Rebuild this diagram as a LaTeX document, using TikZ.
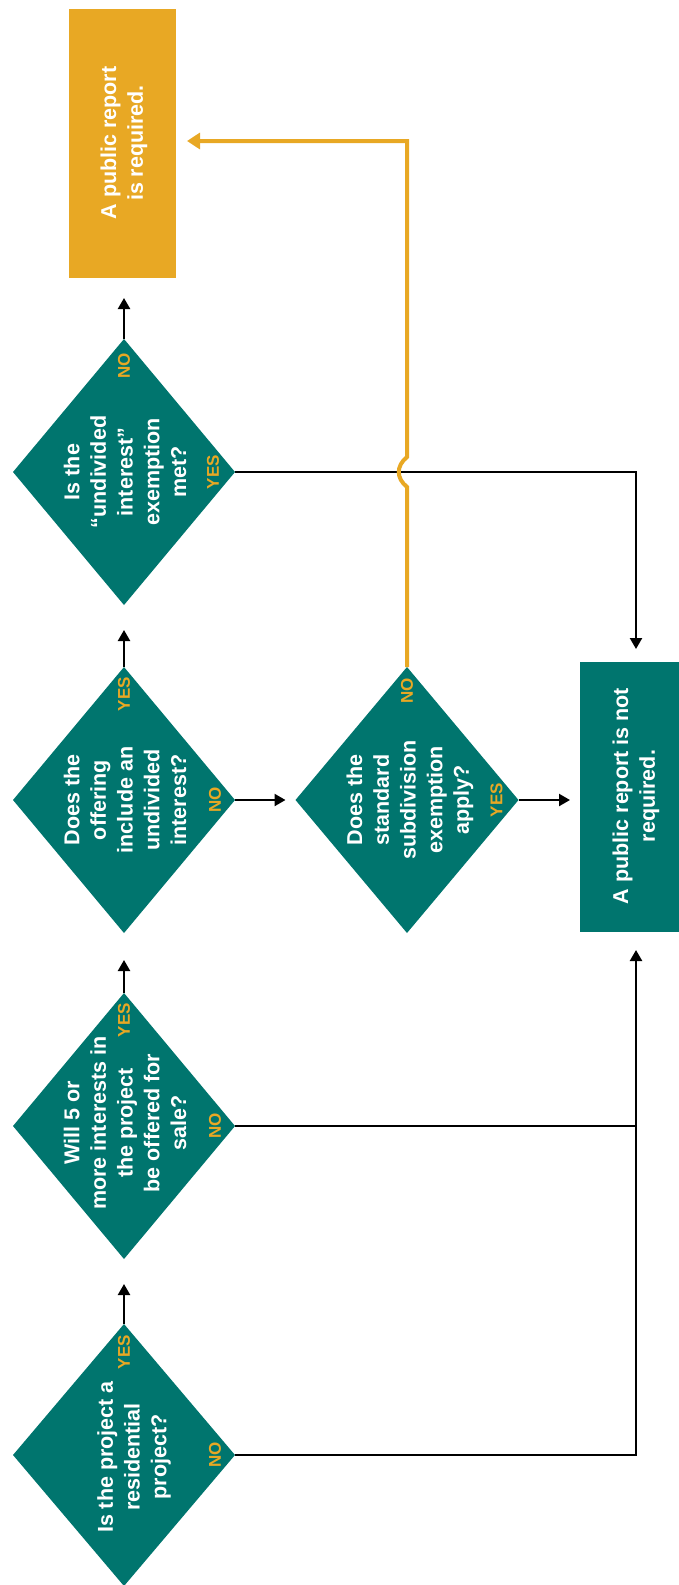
\documentclass[tikz,border=0pt]{standalone}
\usepackage{fontspec}
\setmainfont{Liberation Sans}
\usetikzlibrary{shapes.geometric,arrows.meta,calc}
\definecolor{teal}{RGB}{0,117,110}
\definecolor{gold}{RGB}{232,168,36}
\begin{document}
\begin{tikzpicture}[x=1pt,y=-1pt,
  decision/.style={diamond,fill=teal,draw=none,inner sep=0pt,outer sep=0pt,minimum width=222pt,minimum height=266pt},
  qtext/.style={rotate=90,align=center,text=white,inner sep=0pt,font=\fontsize{21.5}{26.7}\selectfont\bfseries},
  lab/.style={rotate=90,text=gold,inner sep=0pt,font=\fontsize{17}{18}\selectfont\bfseries},
  blk/.style={draw=black,line width=2.3pt,-{Triangle[length=11pt,width=12pt]}},
  blkline/.style={draw=black,line width=2.3pt},
  gld/.style={draw=gold,line width=4pt,-{Triangle[length=13pt,width=16pt]}}]
\useasboundingbox (0,0) rectangle (678,1585);

% result boxes
\node[fill=gold,minimum width=107pt,minimum height=269pt,inner sep=0pt,outer sep=0pt] (req) at (122.5,143.5) {};
\node[qtext] (reqt) at (124,143) {A public report\\is required.};
\node[fill=teal,minimum width=112pt,minimum height=270pt,inner sep=0pt,outer sep=0pt] (notreq) at (636,797) {};
\node[qtext] (notreqt) at (636,796) {A public report is not\\required.};

% decisions
\node[decision,minimum height=262pt] (d1) at (124,1455) {};
\node[qtext] (d1t) at (134,1457) {Is the project a\\residential\\project?};
\node[decision] (d2) at (124,1126) {};
\node[qtext] (d2t) at (125,1123) {Will 5 or\\more interests in\\the project\\be offered for\\sale?};
\node[decision] (d3) at (124,800) {};
\node[qtext] (d3t) at (125,800) {Does the\\offering\\include an\\undivided\\interest?};
\node[decision] (d4) at (124,472) {};
\node[qtext] (d4t) at (125,472) {Is the\\“undivided\\interest”\\exemption\\met?};
\node[decision,minimum width=223pt] (d5) at (407,800) {};
\node[qtext] (d5t) at (410,800) {Does the\\standard\\subdivision\\exemption\\apply?};

% labels
\node[lab] (d1y) at ([yshift=-28pt]d1.north) {YES};
\node[lab] (d1n) at ([xshift=-20pt]d1.east) {NO};
\node[lab] (d2y) at ([yshift=-27pt]d2.north) {YES};
\node[lab] (d2n) at ([xshift=-20pt]d2.east) {NO};
\node[lab] (d3y) at ([yshift=-27pt]d3.north) {YES};
\node[lab] (d3n) at ([xshift=-20pt]d3.east) {NO};
\node[lab] (d4n) at ([yshift=-27pt]d4.north) {NO};
\node[lab] (d4y) at ([xshift=-22pt]d4.east) {YES};
\node[lab] (d5n) at ([yshift=-24pt]d5.north) {NO};
\node[lab] (d5y) at ([xshift=-22pt]d5.east) {YES};

% coordinates
\coordinate (vx) at (notreq.center);
\coordinate (ntop) at ([yshift=13pt]notreq.north);
\coordinate (nbot) at ([yshift=-18pt]notreq.south);
\coordinate (jx) at (d5.north |- d4.east);
\coordinate (oturn) at (407,141);
\coordinate (otip) at ([xshift=11pt]req.east);
\coordinate (rtip) at ([yshift=-20pt]req.south);
\coordinate (ntip) at ([xshift=-10pt]notreq.west);

% connectors
\draw[blk] (d1.north) -- ([yshift=-25pt]d2.south);
\draw[blk] (d2.north) -- ([yshift=-27pt]d3.south);
\draw[blk] (d3.north) -- ([yshift=-25pt]d4.south);
\draw[blk] (d4.north) -- (d4.north |- rtip);
\draw[blk] (d3.east) -- ([xshift=-10pt]d5.west);
\draw[blk] (d5.east) -- (d5.east -| ntip);
\draw[blk] (d4.east) -- (d4.east -| vx) -- (vx |- ntop);
\draw[blk] (d1.east) -- (d1.east -| vx) -- (vx |- nbot);
\draw[blkline] (d2.east) -- (d2.east -| vx);

\draw[gld] (d5.north) -- ([yshift=-15pt]jx)
  .. controls ([xshift=-11pt,yshift=-6pt]jx) and ([xshift=-11pt,yshift=6pt]jx) .. ([yshift=15pt]jx)
  -- (oturn) -- (oturn -| otip);
\end{tikzpicture}
\end{document}
